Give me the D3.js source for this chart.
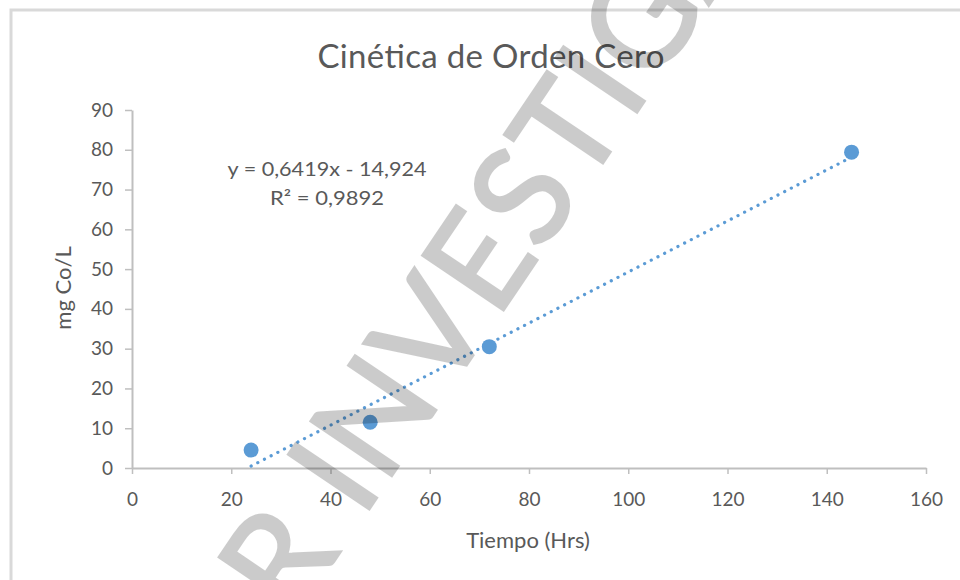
<!DOCTYPE html>
<html>
<head>
<meta charset="utf-8">
<script src="https://cdn.jsdelivr.net/npm/d3@7"></script>
<style>
  html, body { margin: 0; padding: 0; background: #fff; }
  svg { display: block; }
  text { font-family: Lato, "Open Sans", sans-serif; fill: #595959; }
</style>
</head>
<body>
<svg id="chart" width="960" height="580"></svg>
<script>
// ---- data ----
const title = "Cinética de Orden Cero";
const xTitle = "Tiempo (Hrs)";
const yTitle = "mg Co/L";
const timeHrs = [24, 48, 72, 145];
const concentration = [4.5, 11.5, 30.5, 79.4];
const xTicks = [0, 20, 40, 60, 80, 100, 120, 140, 160];
const yTicks = [0, 10, 20, 30, 40, 50, 60, 70, 80, 90];
const trendSlope = 0.6419;
const trendIntercept = -14.924;
const equationLines = ["y = 0,6419x - 14,924", "R\u00B2 = 0,9892"];
const watermark = "R INVESTIGA";

const svg = d3.select("#chart");
const W = 960, H = 580;
const margin = { left: 132, right: W - 926, top: 110, bottom: H - 468 };

const x = d3.scaleLinear().domain([0, 160]).range([margin.left, W - margin.right]);
const y = d3.scaleLinear().domain([0, 90]).range([H - margin.bottom, margin.top]);

const blue = "#5b9bd5";
const axisColor = "#bfbfbf";

// chart area border
svg.append("path")
  .attr("d", d3.line()([[11, H + 5], [11, 10], [W + 5, 10]]))
  .attr("fill", "none").attr("stroke", "#d9d9d9").attr("stroke-width", 3);

// title
svg.append("text")
  .attr("x", 491).attr("y", 68)
  .attr("text-anchor", "middle")
  .attr("font-size", 33).attr("font-weight", 400)
  .attr("textLength", 347).attr("lengthAdjust", "spacing")
  .text(title);

// x axis
const gx = svg.append("g")
  .attr("transform", `translate(0,${y(0)})`)
  .call(d3.axisBottom(x).tickValues(xTicks).tickFormat(d3.format("d")).tickSize(6).tickSizeOuter(0).tickPadding(19));
// y axis
const gy = svg.append("g")
  .attr("transform", `translate(${x(0)},0)`)
  .call(d3.axisLeft(y).tickValues(yTicks).tickFormat(d3.format("d")).tickSize(7).tickSizeOuter(0).tickPadding(12));

[gx, gy].forEach(g => {
  g.select(".domain").attr("stroke", axisColor).attr("stroke-width", 2);
  g.selectAll(".tick line").attr("stroke", axisColor).attr("stroke-width", 1.5);
  g.selectAll(".tick text").attr("font-size", 19).attr("fill", "#595959")
    .attr("font-family", "Lato, 'Open Sans', sans-serif");
});

// axis titles
svg.append("text")
  .attr("x", 528).attr("y", 548)
  .attr("text-anchor", "middle").attr("font-size", 22)
  .text(xTitle);

svg.append("text")
  .attr("transform", "translate(71,288) rotate(-90)")
  .attr("text-anchor", "middle").attr("font-size", 22)
  .text(yTitle);

// trendline (dotted)
const tx0 = d3.min(timeHrs), tx1 = d3.max(timeHrs);
svg.append("path")
  .attr("d", d3.line().x(d => x(d)).y(d => y(trendSlope * d + trendIntercept))([tx0, tx1]))
  .attr("fill", "none").attr("stroke", blue).attr("stroke-width", 3.2)
  .attr("stroke-linecap", "round").attr("stroke-dasharray", "0.1 7.4");

// points
svg.append("g").selectAll("circle")
  .data(timeHrs.map((t, i) => ({ t, c: concentration[i] })))
  .join("circle")
  .attr("cx", d => x(d.t)).attr("cy", d => y(d.c))
  .attr("r", 7.5).attr("fill", blue);

// equation label
const eqWidths = [199, 114];
svg.append("g").selectAll("text")
  .data(equationLines)
  .join("text")
  .attr("x", 327).attr("y", (d, i) => 176 + i * 29)
  .attr("text-anchor", "middle").attr("font-size", 19)
  .attr("textLength", (d, i) => eqWidths[i]).attr("lengthAdjust", "spacingAndGlyphs")
  .text(d => d);

// watermark
svg.append("g").attr("opacity", 0.2)
  .append("text")
  .attr("transform", "translate(293,622) rotate(-56)")
  .attr("font-size", 136).attr("font-weight", 400)
  .attr("letter-spacing", 2)
  .style("fill", "#000").style("stroke", "#000").style("stroke-width", 3)
  .text(watermark);
</script>
</body>
</html>
